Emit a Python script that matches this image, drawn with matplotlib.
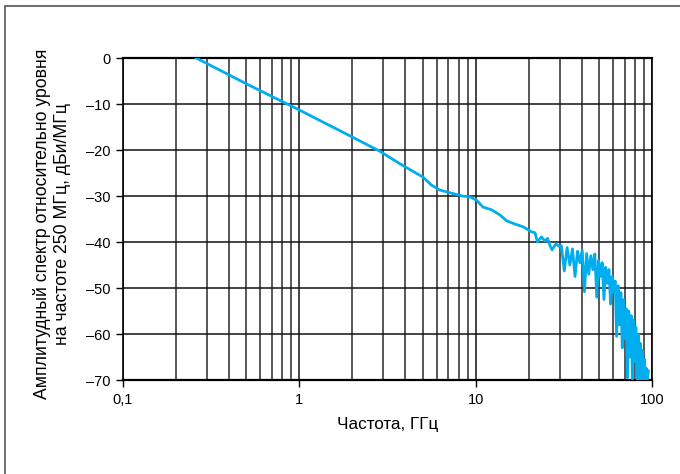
import matplotlib
matplotlib.use("Agg")
import matplotlib.pyplot as plt
from matplotlib.patches import Rectangle
from matplotlib.ticker import FixedLocator, NullFormatter

plt.rcParams['font.family'] = ['Liberation Sans', 'DejaVu Sans']

# smooth part of the spectrum (GHz, dB)
freq_smooth = [0.26, 0.5, 1.0, 2.0, 2.87, 3.72, 5.03, 5.6, 6.25, 7.16, 8.4, 9.3,
               10.1, 11.0, 12.3, 13.7, 15.0, 16.7, 18.6, 20.8, 21.7, 22.4, 23.6,
               24.7, 25.6, 26.4, 27.1, 28.5, 29.6]
level_smooth = [0.0, -5.6, -11.3, -17.2, -20.3, -23.0, -25.9, -27.6, -28.7, -29.3,
                -30.0, -30.2, -30.9, -32.4, -33.0, -34.1, -35.4, -36.1, -36.7, -37.8,
                -38.0, -40.0, -38.9, -39.8, -39.2, -40.8, -41.7, -40.4, -40.9]

# noisy part of the spectrum (GHz, dB)
freq_noisy = [30.6, 31.8, 33.0, 34.2, 35.4, 36.6, 37.8, 39.0, 40.2, 41.4, 42.6, 43.8,
              45.0, 46.2, 47.4, 48.6, 49.8, 51.0, 52.2, 53.4, 54.6, 55.8, 57.0, 58.2,
              59.4, 60.6, 61.8, 63.0, 64.2, 65.4, 66.6, 67.8, 69.0, 70.2, 71.4, 72.6,
              73.8, 75.0, 76.2, 77.4, 78.6, 79.8, 81.0, 82.2, 83.4, 84.6, 85.8, 87.0,
              88.2, 89.4, 90.6, 91.8, 93.0, 94.2, 95.4]
level_noisy = [-40.8, -46.3, -41.2, -45.0, -41.5, -47.5, -42.0, -44.5, -41.8, -50.8,
               -42.5, -47.0, -43.0, -46.0, -42.6, -52.0, -44.0, -47.5, -44.5, -52.5,
               -45.5, -49.0, -46.0, -53.5, -47.5, -51.0, -48.5, -60.5, -49.5, -58.0,
               -51.0, -63.0, -52.5, -61.0, -54.5, -69.5, -55.0, -65.0, -56.0, -69.8,
               -57.0, -66.0, -58.5, -69.8, -60.0, -69.8, -62.0, -69.8, -63.5, -69.8,
               -65.5, -69.8, -67.5, -69.8, -68.0]

x_ticks = [0.1, 1, 10, 100]
x_ticklabels = ['0,1', '1', '10', '100']
y_ticks = [0, -10, -20, -30, -40, -50, -60, -70]
y_ticklabels = ['0', '–10', '–20', '–30', '–40', '–50', '–60', '–70']

fig = plt.figure(figsize=(6.8, 4.74), dpi=100)
fig.patches.append(Rectangle((5 / 680, -0.2), 1.2, 0.2 + (1 - 6 / 474),
                             transform=fig.transFigure, fill=False,
                             edgecolor='#555555', lw=1.2))

ax = fig.add_axes([123 / 680, 1 - 380 / 474, (652 - 123) / 680, (380 - 58) / 474])
ax.set_xscale('log')
ax.set_xlim(0.1, 100)
ax.set_ylim(-70, 0)

ax.plot(freq_smooth + freq_noisy, level_smooth + level_noisy,
        color='#00ADEE', lw=2.0, solid_joinstyle='round', zorder=3, clip_on=True)

ax.xaxis.set_major_locator(FixedLocator(x_ticks))
ax.set_xticklabels(x_ticklabels)
minor = [m * d for d in (0.1, 1, 10) for m in range(2, 10)]
ax.xaxis.set_minor_locator(FixedLocator(minor))
ax.xaxis.set_minor_formatter(NullFormatter())
ax.set_yticks(y_ticks)
ax.set_yticklabels(y_ticklabels)

ax.grid(which='major', color='#111111', lw=1.1)
ax.grid(which='minor', axis='x', color='#2a2a2a', lw=1.1)
ax.set_axisbelow(True)

ax.tick_params(axis='both', which='major', direction='out', length=5, width=1,
               color='black', labelsize=10.5, pad=4)
ax.tick_params(axis='x', which='minor', length=0)
for s in ax.spines.values():
    s.set_color('black')
    s.set_linewidth(1.2)
ax.spines['top'].set_linewidth(1.6)
ax.spines['bottom'].set_linewidth(1.6)

fig.text(388 / 680, 1 - 425 / 474, 'Частота, ГГц', ha='center', va='center', fontsize=12.3)
fig.text(52 / 680, 1 - 224 / 474,
         'Амплитудный спектр относительно уровня\nна частоте 250 МГц, дБи/МГц',
         rotation=90, ha='center', va='center', multialignment='center',
         fontsize=12.7, linespacing=1.25)

fig.savefig('out.png', dpi=100)
